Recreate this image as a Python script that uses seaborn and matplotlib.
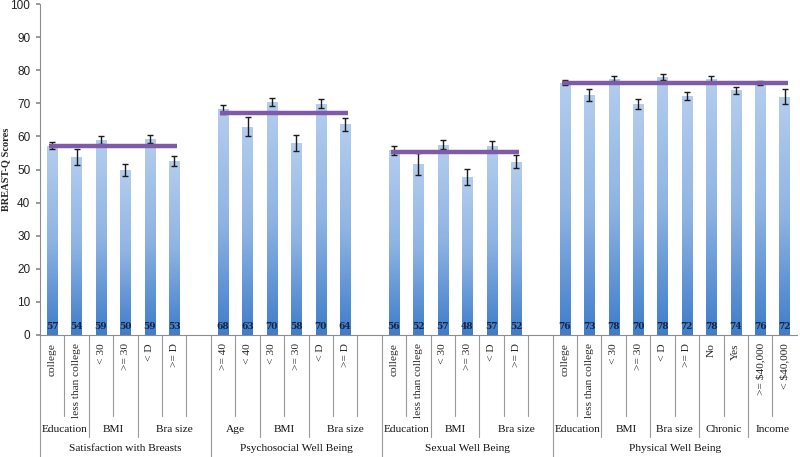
import numpy as np
import pandas as pd
import seaborn as sns
import matplotlib
matplotlib.use("Agg")
import matplotlib.pyplot as plt
from matplotlib.colors import LinearSegmentedColormap
import matplotlib.transforms as mtransforms

# data
domains = ["Satisfaction with Breasts", "Psychosocial Well Being",
           "Sexual Well Being", "Physical Well Being"]
subgroups = [
    [("Education", ["college", "less than college"]), ("BMI", ["< 30", ">= 30"]), ("Bra size", ["< D", ">= D"])],
    [("Age", [">= 40", "< 40"]), ("BMI", ["< 30", ">= 30"]), ("Bra size", ["< D", ">= D"])],
    [("Education", ["college", "less than college"]), ("BMI", ["< 30", ">= 30"]), ("Bra size", ["< D", ">= D"])],
    [("Education", ["college", "less than college"]), ("BMI", ["< 30", ">= 30"]), ("Bra size", ["< D", ">= D"]),
     ("Chronic", ["No", "Yes"]), ("Income", [">= $40,000", "< $40,000"])],
]
scores = [
    [57.2, 53.8, 58.8, 49.9, 59.2, 52.6],
    [68.2, 63.0, 70.3, 58.0, 69.9, 63.7],
    [55.8, 51.7, 57.5, 47.7, 57.1, 52.4],
    [76.3, 72.5, 77.5, 69.8, 78.0, 72.2, 77.3, 73.9, 76.3, 72.0],
]
errors = [
    [1.0, 2.3, 1.2, 1.7, 1.3, 1.4],
    [1.3, 2.8, 1.2, 2.3, 1.4, 1.9],
    [1.3, 3.4, 1.35, 2.5, 1.6, 1.9],
    [0.7, 1.7, 0.8, 1.4, 0.8, 1.1, 1.1, 0.95, 0.6, 2.3],
]
shown_values = [
    [57, 54, 59, 50, 59, 53],
    [68, 63, 70, 58, 70, 64],
    [56, 52, 57, 48, 57, 52],
    [76, 73, 78, 70, 78, 72, 78, 74, 76, 72],
]
domain_means = [57.1, 67.2, 55.2, 76.1]

# build slot table (one empty slot after each of the first three domains)
rows = []
order = []
slot_labels = []
sub_spans = []
dom_spans = []
slot = 0
for d, dom in enumerate(domains):
    start = slot
    i = 0
    for si, (sub, levels) in enumerate(subgroups[d]):
        sstart = slot
        for lev in levels:
            key = f"s{slot}"
            order.append(key)
            slot_labels.append(lev)
            rows.append({"key": key, "slot": slot, "score": scores[d][i],
                         "err": errors[d][i], "shown": shown_values[d][i]})
            i += 1
            slot += 1
        if d < 3 and si == len(subgroups[d]) - 1:
            order.append(f"s{slot}")
            slot_labels.append("")
            slot += 1
        sub_spans.append((sub, sstart, slot - 1))
    dom_spans.append((dom, start, slot - 1))
df = pd.DataFrame(rows)
n_slots = len(order)

sns.set_theme(style="white")
plt.rcParams["font.family"] = ["Liberation Serif", "DejaVu Serif"]

fig = plt.figure(figsize=(8, 4.57), dpi=100)
ax = fig.add_axes([0.05, 0.267, 0.946, 0.724])

sns.barplot(data=df, x="key", y="score", order=order, color="#7aa6dc",
            width=0.42, errorbar=None, ax=ax, zorder=2)

# gradient fill on bars
cmap = LinearSegmentedColormap.from_list("bar", ["#3f7dca", "#8fb4e3", "#b4cdee"])
grad = np.linspace(0, 1, 256).reshape(-1, 1)
for p in ax.patches:
    x0, y0 = p.get_x(), p.get_y()
    w, h = p.get_width(), p.get_height()
    im = ax.imshow(grad, cmap=cmap, aspect="auto", origin="lower",
                   extent=[x0, x0 + w, y0, y0 + h], zorder=2.5)
    im.set_clip_path(p)
    p.set_edgecolor("none")

ax.errorbar(df["slot"], df["score"], yerr=df["err"], fmt="none",
            ecolor="#1a1a1a", elinewidth=1, capsize=2.5, capthick=1, zorder=4)

for _, r in df.iterrows():
    ax.text(r["slot"], 2.7, f"{int(r['shown'])}", ha="center", va="center",
            fontsize=6.5, fontweight="bold", color="#15233f", zorder=5,
            family=["DejaVu Serif"])

# domain mean lines
for (dom, s0, s1), m, sc in zip(dom_spans, domain_means, scores):
    last = s0 + len(sc) - 1
    ax.plot([s0 - 0.12, last + 0.12], [m, m], color="#7f5aa6", lw=3.2,
            solid_capstyle="butt", zorder=6)

ax.set_xlim(-0.5, n_slots - 0.5)
ax.set_ylim(0, 100)
ax.set_yticks(range(0, 101, 10))
ax.set_yticklabels([str(v) for v in range(0, 101, 10)],
                   fontsize=8.5, family=["Liberation Sans", "DejaVu Sans"], color="#222222")
ax.tick_params(axis="y", length=3, color="#8c8c8c", pad=4, left=True)
ax.set_xticks(range(n_slots))
ax.set_xticklabels(slot_labels, rotation=90, fontsize=8.2, va="top")
ax.tick_params(axis="x", length=0, pad=6)
ax.set_xlabel("")
ax.set_ylabel("BREAST-Q Scores", fontsize=7.5, fontweight="bold")
ax.yaxis.set_label_coords(-0.039, 0.5)

for s in ["top", "right"]:
    ax.spines[s].set_visible(False)
for s in ["left", "bottom"]:
    ax.spines[s].set_color("#8c8c8c")
    ax.spines[s].set_linewidth(0.8)

# hierarchical category dividers and labels below the axis
trans = mtransforms.blended_transform_factory(ax.transData, ax.transAxes)
px = 1 / 331.0
y_inner = -81 * px
y_sub = -102 * px
y_dom = -122 * px
sub_edges = {s1 + 0.5 for _, _, s1 in sub_spans}
dom_edges = {s1 + 0.5 for _, _, s1 in dom_spans}
for k in range(n_slots):
    xb = k - 0.5
    if xb == -0.5 or xb in dom_edges:
        yb = y_dom
    elif xb in sub_edges:
        yb = y_sub
    else:
        yb = y_inner
    ax.plot([xb, xb], [0, yb], transform=trans, color="#9a9a9a", lw=0.8,
            clip_on=False)

for sub, s0, s1 in sub_spans:
    ax.text((s0 + s1) / 2, -95 * px, sub, transform=trans, ha="center",
            va="center", fontsize=8.2, color="#111111")
for dom, s0, s1 in dom_spans:
    ax.text((s0 + s1) / 2, -114 * px, dom, transform=trans, ha="center",
            va="center", fontsize=8.2, color="#111111")

fig.savefig("out.png", dpi=100)
